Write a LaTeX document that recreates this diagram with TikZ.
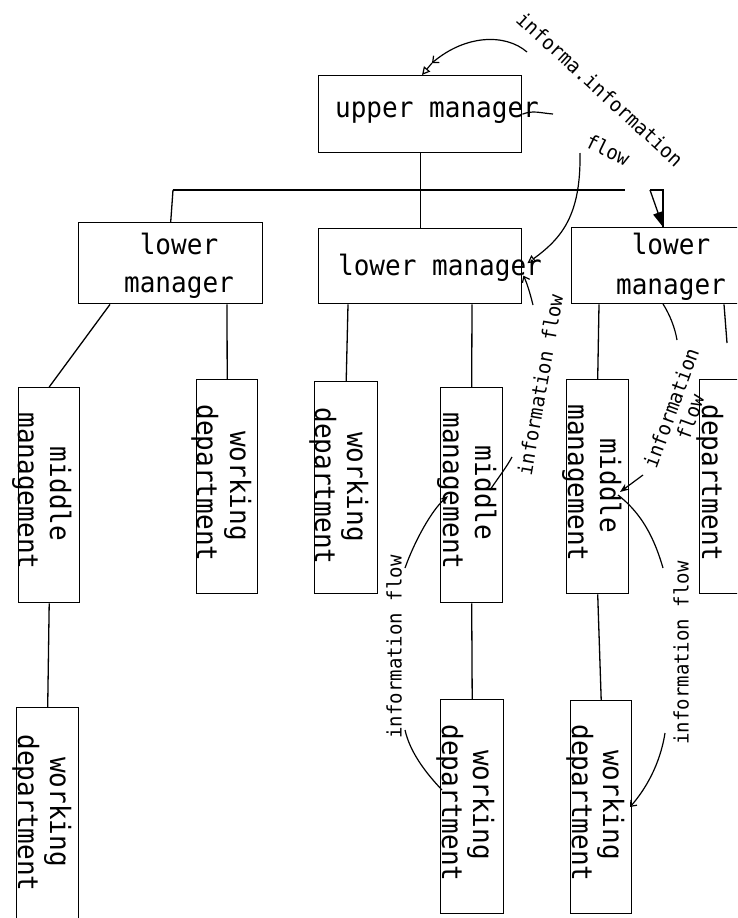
\documentclass[tikz,border=0pt]{standalone}
\usepackage{fontspec}
\usetikzlibrary{arrows.meta}
\newfontfamily\dmono{DejaVu Sans Mono}[FakeStretch=0.93]
\newfontfamily\dmonos{DejaVu Sans Mono}[FakeStretch=0.95]
\newcommand\bigf{\dmono\fontsize{28}{34}\selectfont}
\newcommand\smallf{\dmonos\fontsize{20}{24}\selectfont}
\tikzset{
  box/.style={draw, line width=1.4pt, inner sep=0pt, anchor=north west},
  txt/.style={font=\bigf, inner sep=0pt, anchor=base},
  vtxt/.style={txt, rotate=-90},
  lbl/.style={font=\smallf, inner sep=0pt},
  conn/.style={line width=1.3pt},
  flowline/.style={line width=1.2pt},
}
\begin{document}
\begin{tikzpicture}[x=1pt,y=-1pt]
\useasboundingbox (0,0) rectangle (737,918);
\clip (0,0) rectangle (737,918);
% boxes
\node[box, minimum width=203pt, minimum height=77pt] (um) at (318,75) {};
\node[box, minimum width=184pt, minimum height=81pt] (lm1) at (78,222) {};
\node[box, minimum width=203pt, minimum height=75pt] (lm2) at (318,228) {};
\node[box, minimum width=200pt, minimum height=76pt] (lm3) at (571,227) {};
\node[box, minimum width=61pt, minimum height=215pt] (mm1) at (18,387) {};
\node[box, minimum width=61pt, minimum height=214pt] (wd2) at (196,379) {};
\node[box, minimum width=63pt, minimum height=212pt] (wd3) at (314,381) {};
\node[box, minimum width=62pt, minimum height=215pt] (mm2) at (440,387) {};
\node[box, minimum width=63pt, minimum height=214pt] (wd4) at (440,699) {};
\node[box, minimum width=62pt, minimum height=214pt] (mm3) at (566,379) {};
\node[box, minimum width=61pt, minimum height=213pt] (wd5) at (570,700) {};
\node[box, minimum width=62pt, minimum height=214pt] (dep) at (699,379) {};
\node[box, minimum width=62pt, minimum height=225pt] (wd1) at (16,707) {};
% texts
\node[txt] (tum) at (437,117) {upper manager};
\node[txt] (tl1a) at (179,254) {lower};
\node[txt] (tl1b) at (179,292) {manager};
\node[txt] (tl2) at (440,275) {lower manager};
\node[txt] (tl3a) at (671,254) {lower};
\node[txt] (tl3b) at (671,294) {manager};
\node[vtxt] (tm1a) at (50,494) {middle};
\node[vtxt] (tm1b) at (18,491) {management};
\node[vtxt] (tw2a) at (230,486) {working};
\node[vtxt] (tw2b) at (197,483) {department};
\node[vtxt] (tw3a) at (347,487) {working};
\node[vtxt] (tw3b) at (315,486) {department};
\node[vtxt] (tm2a) at (475,493) {middle};
\node[vtxt] (tm2b) at (443,491) {management};
\node[vtxt] (tm3a) at (600,486) {middle};
\node[vtxt] (tm3b) at (568,483) {management};
\node[vtxt] (tdep) at (702,483) {department};
\node[vtxt] (tw1a) at (50,812) {working};
\node[vtxt] (tw1b) at (18,813) {department};
\node[vtxt] (tw4a) at (473,805) {working};
\node[vtxt] (tw4b) at (442,803) {department};
\node[vtxt] (tw5a) at (603,805) {working};
\node[vtxt] (tw5b) at (572,803) {department};
% tree connectors
\coordinate (busL) at (173,190);
\coordinate (busR) at (625,190);
\coordinate (triL) at (650,190);
\coordinate (triR) at (663,190);
\coordinate (depEnd) at (727,343);
\draw[conn] (busL) -- (busR);
\draw[conn] (um.south) -- (lm2.north);
\draw[conn] (busL) -- (lm1.north);
\draw[conn] ([xshift=32pt]lm1.south west) -- (mm1.north);
\draw[conn] ([xshift=149pt]lm1.south west) -- (wd2.north);
\draw[conn] ([xshift=30pt]lm2.south west) -- (wd3.north);
\draw[conn] ([xshift=154pt]lm2.south west) -- (mm2.north);
\draw[conn] ([xshift=28pt]lm3.south west) -- (mm3.north);
\draw[conn] ([xshift=153pt]lm3.south west) -- (depEnd);
\draw[conn] (mm1.south) -- (wd1.north);
\draw[conn] (mm2.south) -- (wd4.north);
\draw[conn] (mm3.south) -- (wd5.north);
\draw[conn] (triL) -- (triR) -- ([xshift=92pt]lm3.north west);
\draw[conn, -{Triangle[length=15pt,width=10pt]}] (triL) -- ([xshift=92pt]lm3.north west);
% information flow arrows
\coordinate (a1) at (527,52);
\coordinate (a2) at (432,63);
\draw[flowline, -{Straight Barb[length=5pt,width=9pt]}] (a1) .. controls (505,33) and (465,35) .. (a2);
\draw[flowline, -{Triangle[open,length=8pt,width=8pt]}] (a2) -- ([xshift=104pt]um.north west);
\coordinate (b1) at (553,114);
\coordinate (b2) at (580,153);
\draw[flowline] (um.east) .. controls (533,110) and (540,113) .. (b1);
\draw[flowline, -{Triangle[open,length=8pt,width=8pt]}] (b2) .. controls (581,215) and (562,238) .. ([xshift=5pt,yshift=3pt]lm2.east);
\coordinate (c1) at (490,490);
\coordinate (c2) at (512,457);
\coordinate (c3) at (533,305);
\draw[flowline] (c1) .. controls (498,478) and (506,468) .. (c2);
\draw[flowline, -{Straight Barb[length=5pt,width=8pt]}] (c3) .. controls (530,293) and (527,283) .. ([xshift=1pt,yshift=-9.5pt]lm2.east);
\coordinate (d1) at (442,790);
\coordinate (d2) at (405,730);
\coordinate (d3) at (405,568);
\coordinate (d4) at (448,496);
\draw[flowline] (d1) .. controls (425,772) and (410,752) .. (d2);
\draw[flowline, -{Stealth[length=8pt,width=6pt]}] (d3) .. controls (415,540) and (432,510) .. (d4);
\coordinate (e1) at (663,304);
\coordinate (e2) at (677,340);
\coordinate (e3) at (643,475);
\coordinate (e4) at (620,492);
\draw[flowline] (e1) .. controls (670,315) and (675,328) .. (e2);
\draw[flowline, -{Stealth[length=9pt,width=7pt]}] (e3) -- (e4);
\coordinate (f1) at (618,495);
\coordinate (f2) at (663,568);
\coordinate (f3) at (665,733);
\coordinate (f4) at (630,807);
\draw[flowline] (f1) .. controls (637,510) and (652,530) .. (f2);
\draw[flowline, -{Straight Barb[length=5pt,width=8pt]}] (f3) .. controls (660,765) and (645,790) .. (f4);
% flow labels
\node[lbl, rotate=-42.5] (la) at (600,89) {informa.information};
\node[lbl, rotate=-26] (laf) at (608,150) {flow};
\node[lbl, rotate=80] (lc) at (540,385) {information flow};
\node[lbl, rotate=90] (ld) at (394,647) {information flow};
\node[lbl, rotate=70] (le1) at (671,408) {information};
\node[lbl, rotate=70] (le2) at (690,417) {flow};
\node[lbl, rotate=90] (lf) at (681,653) {information flow};
\end{tikzpicture}
\end{document}
